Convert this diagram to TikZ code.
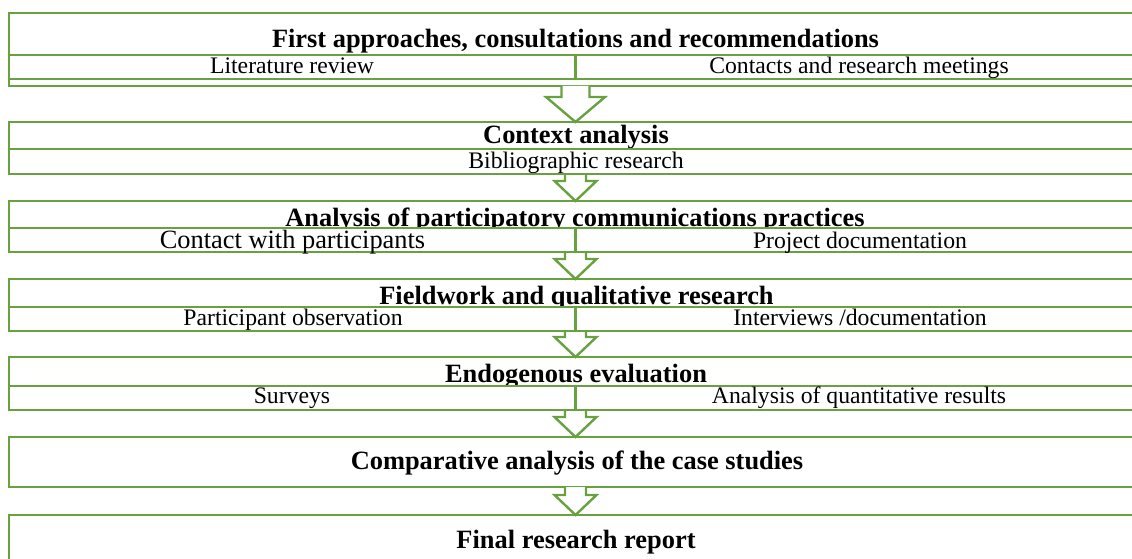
\documentclass[tikz,border=0pt]{standalone}
\usepackage{fontspec}
\setmainfont{Liberation Serif}
\usetikzlibrary{calc}
\definecolor{boxgreen}{RGB}{104,162,64}
\newcommand{\titlefont}{\fontsize{26.4}{30}\selectfont\bfseries}
\newcommand{\subfont}{\fontsize{23.7}{28}\selectfont}
% hollow block arrow: from node, to node, shaft half width, head half width, head length
\newcommand{\flowarrow}[5]{%
    \filldraw[blockarrow] ($(#1.south)+(-#3,0)$) -- ($(#2.north)+(-#3,-#5)$)
        -- ($(#2.north)+(-#4,-#5)$) -- (#2.north) -- ($(#2.north)+(#4,-#5)$)
        -- ($(#2.north)+(#3,-#5)$) -- ($(#1.south)+(#3,0)$);
}
\begin{document}
\begin{tikzpicture}[x=1pt, y=-1pt,
    box/.style={rectangle, draw=boxgreen, line width=2.4pt, inner sep=0pt, outer sep=0pt,
        minimum width=1133pt, anchor=north west},
    subrow/.style={box, fill=white},
    divider/.style={draw=boxgreen, line width=2.4pt},
    blockarrow/.style={draw=boxgreen, line width=2.4pt, fill=white, line join=miter},
    steptitle/.style={anchor=base, font=\titlefont},
    steptext/.style={anchor=base, font=\subfont}]
    \clip (0,0) rectangle (1132,559);

    % steps
    \node[box, minimum height=73pt] (b1) at (9,13) {};
    \node[box, minimum height=52pt] (b2) at (9,122) {};
    \node[box, minimum height=51pt] (b3) at (9,201) {};
    \node[box, minimum height=52pt] (b4) at (9,279) {};
    \node[box, minimum height=53pt] (b5) at (9,357) {};
    \node[box, minimum height=50pt] (b6) at (9,437) {};
    \node[box, minimum height=60pt] (b7) at (9,515) {};

    % arrows
    \flowarrow{b1}{b2}{14}{29.5}{25}
    \foreach \a/\b in {b2/b3, b3/b4, b4/b5, b5/b6, b6/b7}
    {
        \flowarrow{\a}{\b}{10.5}{21}{20}
    }

    % titles
    \node[steptitle] (t1) at (575.5,48) {First approaches, consultations and recommendations};
    \node[steptitle] (t2) at (576,143) {Context analysis};
    \node[steptitle] (t3) at (575,226) {Analysis of participatory communications practices};
    \node[steptitle] (t4) at (576.5,304) {Fieldwork and qualitative research};
    \node[steptitle] (t5) at (576,382) {Endogenous evaluation};
    \node[steptitle] (t6) at (577,469) {Comparative analysis of the case studies};
    \node[steptitle] (t7) at (576,548) {Final research report};

    % sub rows
    \node[subrow, minimum height=24pt] (r1) at (9,55) {};
    \node[subrow, minimum height=25pt] (r2) at (9,149) {};
    \node[subrow, minimum height=24pt] (r3) at (9,228) {};
    \node[subrow, minimum height=24pt] (r4) at (9,307) {};
    \node[subrow, minimum height=24pt] (r5) at (9,386) {};
    \foreach \r in {r1,r3,r4,r5}
    {
        \draw[divider] (\r.north) -- (\r.south);
    }

    \node[steptext] (s1a) at (292,74) {Literature review};
    \node[steptext] (s1b) at (859,74) {Contacts and research meetings};
    \node[steptext] (s2) at (576,168) {Bibliographic research};
    \node[steptext, font=\fontsize{26.4}{30}\selectfont] (s3a) at (292.5,248) {Contact with participants};
    \node[steptext] (s3b) at (860,248) {Project documentation};
    \node[steptext] (s4a) at (293,325) {Participant observation};
    \node[steptext] (s4b) at (860,325) {Interviews /documentation};
    \node[steptext] (s5a) at (292,403) {Surveys};
    \node[steptext] (s5b) at (859,403) {Analysis of quantitative results};
\end{tikzpicture}
\end{document}
